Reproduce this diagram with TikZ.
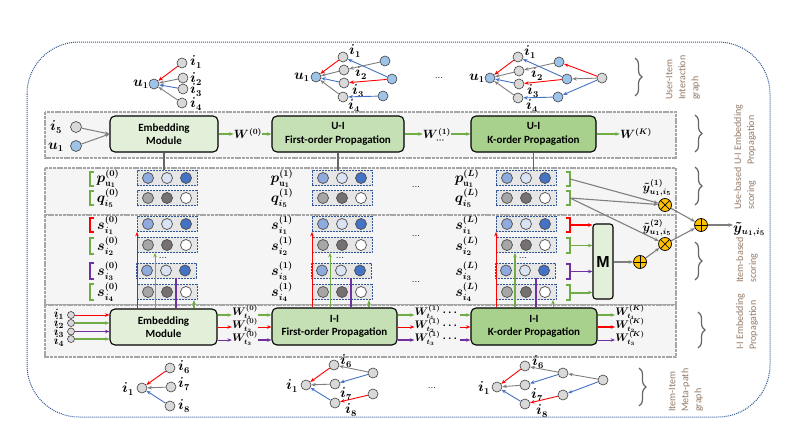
\documentclass[tikz,border=0pt]{standalone}
\usepackage{fontspec}
\usepackage{amsmath}
\usetikzlibrary{arrows.meta,calc,decorations.pathreplacing}
\newfontfamily\carl{Carlito}
\newfontfamily\arl{Liberation Sans}
\definecolor{cRed}{HTML}{FF0000}
\definecolor{cGreen}{HTML}{70AD47}
\definecolor{cPurple}{HTML}{7030A0}
\definecolor{cBlue}{HTML}{4472C4}
\definecolor{cGray}{HTML}{7F7F7F}
\definecolor{nGray}{HTML}{D9D9D9}
\definecolor{nBlue}{HTML}{9DC3E6}
\definecolor{panelF}{HTML}{F4F5F4}
\definecolor{panelB}{HTML}{A6A6A6}
\definecolor{lGreen}{HTML}{E2F0D9}
\definecolor{mGreen}{HTML}{C5E0B4}
\definecolor{dGreen}{HTML}{A9D18E}
\definecolor{vBa}{HTML}{8FAADC}
\definecolor{vBb}{HTML}{DAE3F3}
\definecolor{vBc}{HTML}{4472C4}
\definecolor{vGa}{HTML}{A6A6A6}
\definecolor{vGb}{HTML}{767171}
\definecolor{vBox}{HTML}{E7E6E6}
\definecolor{vBord}{HTML}{2F5597}
\definecolor{opF}{HTML}{FFC000}
\definecolor{sideT}{HTML}{957B68}
\definecolor{dotB}{HTML}{2F5597}
\tikzset{
  gn/.style={circle, draw=black!75, fill=nGray, line width=0.6pt, minimum size=10pt, inner sep=0pt},
  bn/.style={gn, fill=nBlue},
  sn/.style={gn, minimum size=7pt},
  lab/.style={inner sep=0pt, font=\boldmath\fontsize{13.5}{13.5}\selectfont},
  wlab/.style={inner sep=0pt, font=\boldmath\fontsize{12}{12}\selectfont},
  wslab/.style={inner sep=0pt, font=\boldmath\fontsize{10.5}{10.5}\selectfont},
  dotlab/.style={inner sep=0pt, font=\fontsize{10}{10}\selectfont},
  arr/.style={-{Stealth[length=4.5pt,width=3.5pt]}},
  eR/.style={arr, draw=cRed, line width=0.9pt},
  eK/.style={arr, draw=cGray, line width=0.9pt},
  eB/.style={arr, draw=cBlue, line width=0.9pt},
  aGr/.style={arr, draw=cGreen, line width=1.1pt},
  aRd/.style={arr, draw=cRed, line width=1pt},
  aPu/.style={arr, draw=cPurple, line width=1pt},
  aGy/.style={arr, draw=cGray, line width=1.1pt},
  panel/.style={draw=panelB, fill=panelF, line width=1.5pt, dash pattern=on 3pt off 0.8pt},
  modbox/.style={draw=black, line width=1.1pt, rounded corners=5pt, align=center, inner sep=0pt,
     font=\carl\bfseries\fontsize{11}{13.5}\selectfont},
  mbox/.style={draw=black, line width=1.1pt, rounded corners=3pt, fill=lGreen, minimum width=20pt,
     minimum height=75pt, inner sep=0pt, font=\arl\bfseries\fontsize{16}{16}\selectfont},
  vbox/.style={draw=vBord, fill=vBox, line width=0.8pt, dash pattern=on 2pt off 1pt,
     minimum width=60pt, minimum height=15pt, inner sep=0pt},
  vc/.style={circle, draw=black!70, line width=0.7pt, minimum size=11pt, inner sep=0pt},
  op/.style={circle, draw=black, line width=0.7pt, fill=opF, minimum size=13pt, inner sep=0pt},
  otim/.style={op, path picture={\draw[line width=0.7pt] (path picture bounding box.north west) -- (path picture bounding box.south east) (path picture bounding box.north east) -- (path picture bounding box.south west);}},
  oplu/.style={op, path picture={\draw[line width=0.7pt] (path picture bounding box.north) -- (path picture bounding box.south) (path picture bounding box.east) -- (path picture bounding box.west);}},
  brk/.style={line width=1.2pt},
  brc/.style={decorate, decoration={brace, amplitude=7pt}, draw=black!60, line width=1.2pt},
  sidet/.style={rotate=90, anchor=west, align=left, text=sideT, inner sep=0pt,
     font=\carl\fontsize{10}{13}\selectfont},
}
\newcommand{\vecB}[3]{%
  \node[vbox] (#1) at (#2,#3) {};
  \node[vc, fill=vBa] (#1a) at ($(#1)+(-19,0)$) {};
  \node[vc, fill=vBb] (#1b) at (#1) {};
  \node[vc, fill=vBc] (#1c) at ($(#1)+(19,0)$) {};}
\newcommand{\vecG}[3]{%
  \node[vbox] (#1) at (#2,#3) {};
  \node[vc, fill=vGa] (#1a) at ($(#1)+(-19,0)$) {};
  \node[vc, fill=vGb] (#1b) at (#1) {};
  \node[vc, fill=white] (#1c) at ($(#1)+(19,0)$) {};}
\begin{document}
\begin{tikzpicture}[x=1pt,y=-1pt]
\fill[white] (0,0) rectangle (798,439);
\useasboundingbox (0,0) rectangle (798,439);
% outer frame
\draw[dotB, densely dotted, line width=1pt, rounded corners=52pt] (27,42) rectangle (770,417);

% ===== top graphs =====
\node[bn] (g1u) at (154,84) {};
\node[gn] (g1i1) at (182,63) {};
\node[gn] (g1i2) at (183,78) {};
\node[gn] (g1i3) at (183,89) {};
\node[gn] (g1i4) at (182,103) {};
\node[lab] (l1u) at (141,84) {$u_1$};
\node[lab] (l1a) at (196,62) {$i_1$};
\node[lab] (l1b) at (196,79) {$i_2$};
\node[lab] (l1c) at (196,90) {$i_3$};
\node[lab] (l1d) at (196,104) {$i_4$};
\draw[eR] (g1i1) -- (g1u);
\draw[eK] (g1i2) -- (g1u);
\draw[eB] (g1i3) -- (g1u);
\draw[eK] (g1i4) -- (g1u);

\node[bn] (g2u) at (316,77) {};
\node[gn] (g2i1) at (343,57) {};
\node[gn] (g2i2) at (344,70) {};
\node[gn] (g2i3) at (344,83) {};
\node[gn] (g2i4) at (343,97) {};
\node[bn] (g2b1) at (385,61) {};
\node[bn] (g2b2) at (392,79) {};
\node[bn] (g2b3) at (383,96) {};
\node[lab] (l2u) at (302,77) {$u_1$};
\node[lab] (l2a) at (355,51) {$i_1$};
\node[lab] (l2b) at (361,73) {$i_2$};
\node[lab] (l2c) at (358,91) {$i_3$};
\node[lab] (l2d) at (354,106) {$i_4$};
\draw[eK] (g2b1) -- (g2i2);
\draw[eB] (g2b2) -- (g2i1);
\draw[eR] (g2b2) -- (g2i3);
\draw[eB] (g2b3) -- (g2i4);
\draw[eR] (g2i1) -- (g2u);
\draw[eK] (g2i2) -- (g2u);
\draw[eB] (g2i3) -- (g2u);
\draw[eK] (g2i4) -- (g2u);

\node[dotlab] (d1) at (439,78) {...};

\node[bn] (g3u) at (490,78) {};
\node[gn] (g3i1) at (518,57) {};
\node[gn] (g3i2) at (519,71) {};
\node[gn] (g3i3) at (519,84) {};
\node[gn] (g3i4) at (518,98) {};
\node[bn] (g3m1) at (559,62) {};
\node[bn] (g3m2) at (567,79) {};
\node[bn] (g3m3) at (558,97) {};
\node[gn] (g3f) at (602,78) {};
\node[lab] (l3u) at (477,78) {$u_1$};
\node[lab] (l3a) at (530,52) {$i_1$};
\node[lab] (l3b) at (537,74) {$i_2$};
\node[lab] (l3c) at (533,91) {$i_3$};
\node[lab] (l3d) at (532,106) {$i_4$};
\draw[eR] (g3f) -- (g3m1);
\draw[eK] (g3f) -- (g3m2);
\draw[eB] (g3f) -- (g3m3);
\draw[eK] (g3m1) -- (g3i2);
\draw[eB] (g3m2) -- (g3i1);
\draw[eR] (g3m2) -- (g3i3);
\draw[eB] (g3m3) -- (g3i4);
\draw[eR] (g3i1) -- (g3u);
\draw[eK] (g3i2) -- (g3u);
\draw[eB] (g3i3) -- (g3u);
\draw[eK] (g3i4) -- (g3u);

% ===== panels =====
\draw[panel] (45,112) rectangle (676,158);
\draw[panel] (45,168) rectangle (676,215);
\draw[panel] (45,215) rectangle (676,305);
\draw[panel] (45,305) rectangle (676,357);

% ===== U-I embedding row =====
\node[modbox, fill=lGreen, minimum width=108pt, minimum height=36pt] (uemb) at (164,134) {Embedding\\Module};
\node[modbox, fill=mGreen, minimum width=132pt, minimum height=36pt] (uf) at (338,134) {U-I\\First-order Propagation};
\node[modbox, fill=dGreen, minimum width=125pt, minimum height=36pt] (uk) at (533.5,134) {U-I\\K-order Propagation};
\node[gn, minimum size=11pt] (ui5) at (76,127) {};
\node[bn, minimum size=11pt] (uu1) at (76,146) {};
\node[lab] (lui5) at (56,127) {$i_5$};
\node[lab] (luu1) at (56,147) {$u_1$};
\draw[aGy, line width=1pt] (ui5) -- (uemb.west);
\draw[aGy, line width=1pt] (uu1) -- (uemb.west);
\node[wlab, anchor=base] (w0) at (248,138.5) {$W^{(0)}$};
\node[wlab, anchor=base] (w1) at (437,138.5) {$W^{(1)}_{\cdots}$};
\node[wlab, anchor=base] (wk) at (636,138.5) {$W^{(K)}$};
\draw[aGr] (uemb.east) -- (uemb.east -| w0.west);
\draw[aGr] (uf.west -| w0.east) -- (uf.west);
\draw[aGr] (uf.east) -- (uf.east -| w1.west);
\draw[aGr, line width=1.4pt] (uk.west -| w1.east) -- (uk.west);
\draw[aGr] (uk.east) -- (uk.east -| wk.west);

% ===== vectors =====
\vecB{pa}{167}{178} \vecG{qa}{167}{198}
\vecB{pb}{342}{178} \vecG{qb}{342}{198}
\vecB{pc}{526}{178} \vecG{qc}{526}{198}
\vecB{sa1}{167}{224} \vecG{sa2}{167}{245} \vecB{sa3}{166}{270.5} \vecG{sa4}{167}{292}
\vecB{sb1}{342}{224} \vecG{sb2}{342}{245} \vecB{sb3}{341}{270.5} \vecG{sb4}{342}{292}
\vecB{sc1}{526}{224} \vecG{sc2}{526}{245} \vecB{sc3}{525}{270.5} \vecG{sc4}{526}{292}

\draw[draw=cGray!80!black, line width=1.6pt] (uemb.south) -- (uemb.south |- pa.north);
\draw[draw=cGray!80!black, line width=1.6pt] (uf.south) -- (uf.south |- pb.north);
\draw[draw=cGray!80!black, line width=1.6pt] (uk.south) -- (uk.south |- pc.north);

% labels
\node[lab] (lpa) at (108,179) {$p^{(0)}_{\mathrm{u}_1}$};
\node[lab] (lqa) at (108,198) {$q^{(0)}_{i_5}$};
\node[lab] (lpb) at (282,179) {$p^{(1)}_{\mathrm{u}_1}$};
\node[lab] (lqb) at (282,198) {$q^{(1)}_{i_5}$};
\node[lab] (lpc) at (467,179) {$p^{(L)}_{\mathrm{u}_1}$};
\node[lab] (lqc) at (467,198) {$q^{(L)}_{i_5}$};
\foreach \n/\x/\s in {a/108/(0), b/282/(1), c/467/(L)}{
  \node[lab] (ls\n1) at (\x,225) {$s^{\s}_{i_1}$};
  \node[lab] (ls\n2) at (\x,246) {$s^{\s}_{i_2}$};
  \node[lab] (ls\n3) at (\x,271) {$s^{\s}_{i_3}$};
  \node[lab] (ls\n4) at (\x,292) {$s^{\s}_{i_4}$};
}
\node[dotlab] (d2) at (416,187) {...};
\node[dotlab] (d3) at (416,236) {...};
\node[dotlab] (d4) at (416,282) {...};
\node[dotlab] (d5) at (163,258) {...};
\node[dotlab] (d6) at (340,258) {...};
\node[dotlab] (d7) at (523,258) {...};

% left brackets col1
\draw[brk, cGreen] (94,172) -- (90,172) -- (90,186) -- (94,186);
\draw[brk, cGreen] (94,191) -- (90,191) -- (90,205) -- (94,205);
\draw[brk, cRed] (94,218) -- (90,218) -- (90,232) -- (94,232);
\draw[brk, cGreen] (94,238) -- (90,238) -- (90,254) -- (94,254);
\draw[brk, cPurple] (94,263) -- (90,263) -- (90,279) -- (94,279);
\draw[brk, cGreen] (94,284) -- (90,284) -- (90,300) -- (94,300);
% right brackets col3
\draw[brk, cGreen] (566,172) -- (570,172) -- (570,186) -- (566,186);
\draw[brk, cGreen] (566,191) -- (570,191) -- (570,205) -- (566,205);
\draw[brk, cRed] (566,218) -- (570,218) -- (570,232) -- (566,232);
\draw[brk, cGreen] (566,238) -- (570,238) -- (570,253) -- (566,253);
\draw[brk, cPurple] (566,264) -- (570,264) -- (570,279) -- (566,279);
\draw[brk, cGreen] (566,285) -- (570,285) -- (570,300) -- (566,300);
\coordinate (bp) at (570,179);
\coordinate (bq) at (570,198);
\coordinate (br1) at (570,225);
\coordinate (br2) at (570,245.5);
\coordinate (br3) at (570,271.5);
\coordinate (br4) at (570,292.5);

% M and operators
\node[mbox] (M) at (603,261.5) {M};
\draw[aRd, line width=1.3pt] (br1) -- (br1 -| M.west);
\draw[aGr] (br2) -- (br2 -| M.west);
\draw[aPu, line width=1.6pt] (br3) -- (br3 -| M.west);
\draw[aGr, line width=2pt] (br4) -- (br4 -| M.west);

\node[otim] (op1) at (665,205) {};
\node[otim] (op2) at (665,244) {};
\node[oplu] (opm) at (701,225) {};
\node[oplu] (ops) at (640,262) {};
\draw[aGy] (bp) -- (op1);
\draw[aGy] (bq) -- (op1);
\draw[aGy] (bq) -- (op2);
\draw[aGy] (op1) -- (opm);
\draw[aGy] (op2) -- (opm);
\draw[aGy] (M.east |- ops) -- (ops);
\draw[aGy] (ops) -- (op2);
\node[wlab] (y1) at (657,188) {$\tilde{y}^{(1)}_{u_1,i_5}$};
\node[wlab] (y2) at (657,228) {$\tilde{y}^{(2)}_{u_1,i_5}$};
\node[lab, anchor=west] (yf) at (733,229) {$\tilde{y}_{u_1,i_5}$};
\draw[aGy] (opm) -- (yf.west |- opm);

% ===== I-I embedding row =====
\node[modbox, fill=lGreen, minimum width=107pt, minimum height=36pt] (iemb) at (163.5,327) {Embedding\\Module};
\node[modbox, fill=mGreen, minimum width=125pt, minimum height=37pt] (iif) at (334.5,326.5) {I-I\\First-order Propagation};
\node[modbox, fill=dGreen, minimum width=126pt, minimum height=37pt] (iik) at (534,326.5) {I-I\\K-order Propagation};

\node[sn] (ii1) at (71,315) {};
\node[sn] (ii2) at (71,323) {};
\node[sn] (ii3) at (71,331.5) {};
\node[sn] (ii4) at (71,339) {};
\node[wlab] (lii1) at (59,314) {$i_1$};
\node[wlab] (lii2) at (59,323) {$i_2$};
\node[wlab] (lii3) at (59,332) {$i_3$};
\node[wlab] (lii4) at (59,341) {$i_4$};
\draw[aRd] (ii1) -- (ii1 -| iemb.west);
\draw[aGr] (ii2) -- (ii2 -| iemb.west);
\draw[aPu] (ii3) -- (ii3 -| iemb.west);
\draw[aGr] (ii4) -- (ii4 -| iemb.west);

\coordinate (ya) at (0,315);
\coordinate (yb) at (0,327);
\coordinate (yc) at (0,340);
\node[wslab] (wa1) at (245,312) {$W^{(0)}_{t_1}$};
\node[wslab] (wa2) at (245,325) {$W^{(0)}_{t_2}$};
\node[wslab] (wa3) at (245,338) {$W^{(0)}_{t_3}$};
\node[wslab] (wb1) at (437,312) {$W^{(1)}_{t_1}\cdots$};
\node[wslab] (wb2) at (437,325) {$W^{(1)}_{t_2}\cdots$};
\node[wslab] (wb3) at (437,338) {$W^{(1)}_{t_3}\cdots$};
\node[wslab] (wc1) at (630,312) {$W^{(K)}_{t_1}$};
\node[wslab] (wc2) at (630,325) {$W^{(K)}_{t_2}$};
\node[wslab] (wc3) at (630,338) {$W^{(K)}_{t_3}$};

\draw[aGr] (iemb.east |- ya) -- (wa1.west |- ya);
\draw[aRd] (iemb.east |- yb) -- (wa2.west |- yb);
\draw[aPu] (iemb.east |- yc) -- (wa3.west |- yc);
\draw[aGr, line width=2.2pt] (wa1.east |- ya) -- (iif.west |- ya);
\draw[aRd] (wa2.east |- yb) -- (iif.west |- yb);
\draw[aPu, line width=2.2pt] (wa3.east |- yc) -- (iif.west |- yc);
\draw[aGr] (iif.east |- ya) -- (wb1.west |- ya);
\draw[aRd] (iif.east |- yb) -- (wb2.west |- yb);
\draw[aPu, line width=2pt] (iif.east |- yc) -- (wb3.west |- yc);
\draw[aGr, line width=1.5pt] (wb1.east |- ya) -- (iik.west |- ya);
\draw[aRd] (wb2.east |- yb) -- (iik.west |- yb);
\draw[aPu, line width=2.5pt] (wb3.east |- yc) -- (iik.west |- yc);
\draw[aGr] (iik.east |- ya) -- (wc1.west |- ya);
\draw[aRd, line width=2.5pt] (iik.east |- yb) -- (wc2.west |- yb);
\draw[aPu] (iik.east |- yc) -- (wc3.west |- yc);

% vertical arrows to s vectors
\draw[aRd] ([xshift=-30pt]sa1.south |- iemb.north) -- ([xshift=-30pt]sa1.south);
\draw[aGr, line width=1pt] ([xshift=-12pt]sa2.south |- iemb.north) -- ([xshift=-12pt]sa2.south);
\draw[cPurple, line width=2pt] ([xshift=10pt]sa3.south |- iemb.north) -- ([xshift=10pt]sa3.south);
\draw[aGr, line width=1.3pt] ([xshift=27pt]sa4.south |- iemb.north) -- ([xshift=27pt]sa4.south);
\draw[aRd] ([xshift=-30pt]sb1.south |- iif.north) -- ([xshift=-30pt]sb1.south);
\draw[aGr, line width=1pt] ([xshift=-12pt]sb2.south |- iif.north) -- ([xshift=-12pt]sb2.south);
\draw[cPurple, line width=2pt] ([xshift=10pt]sb3.south |- iif.north) -- ([xshift=10pt]sb3.south);
\draw[aGr, line width=1.3pt] ([xshift=27pt]sb4.south |- iif.north) -- ([xshift=27pt]sb4.south);
\draw[aRd] ([xshift=-30pt]sc1.south |- iik.north) -- ([xshift=-30pt]sc1.south);
\draw[aGr, line width=2.4pt] ([xshift=-11pt]sc2.south |- iik.north) -- ([xshift=-11pt]sc2.south);
\draw[cPurple, line width=2pt] ([xshift=11pt]sc3.south |- iik.north) -- ([xshift=11pt]sc3.south);
\draw[aGr, line width=1pt] ([xshift=27pt]sc4.south |- iik.north) -- ([xshift=27pt]sc4.south);

% ===== bottom graphs =====
\node[gn] (h1i1) at (142,388) {};
\node[gn] (h1i6) at (170,368) {};
\node[gn] (h1i7) at (171,387) {};
\node[gn] (h1i8) at (170,406) {};
\node[lab] (m1a) at (128,389) {$i_1$};
\node[lab] (m1b) at (184,367) {$i_6$};
\node[lab] (m1c) at (184,384) {$i_7$};
\node[lab] (m1d) at (184,406) {$i_8$};
\draw[eR] (h1i6) -- (h1i1);
\draw[eK] (h1i7) -- (h1i1);
\draw[eB] (h1i8) -- (h1i1);

\node[gn] (h2i1) at (306,385) {};
\node[gn] (h2i6) at (334,365) {};
\node[gn] (h2i7) at (335,384) {};
\node[gn] (h2i8) at (335,403) {};
\node[gn] (h2r1) at (373,373) {};
\node[gn] (h2r2) at (373,394) {};
\node[lab] (m2a) at (292,386) {$i_1$};
\node[lab] (m2b) at (346,361) {$i_6$};
\node[lab] (m2c) at (346,394) {$i_7$};
\node[lab] (m2d) at (351,410) {$i_8$};
\draw[eK] (h2r1) -- (h2i6);
\draw[eB] (h2r1) -- (h2i7);
\draw[eR] (h2r2) -- (h2i8);
\draw[eR] (h2i6) -- (h2i1);
\draw[eK] (h2i7) -- (h2i1);
\draw[eB] (h2i8) -- (h2i1);

\node[dotlab] (d8) at (432,388) {...};

\node[gn] (h3i1) at (497,387) {};
\node[gn] (h3i6) at (525,366) {};
\node[gn] (h3i7) at (525,385) {};
\node[gn] (h3i8) at (525,404) {};
\node[gn] (h3m1) at (563,373) {};
\node[gn] (h3m2) at (563,395) {};
\node[gn] (h3f) at (603,380) {};
\node[lab] (m3a) at (484,388) {$i_1$};
\node[lab] (m3b) at (538,362) {$i_6$};
\node[lab] (m3c) at (537,395) {$i_7$};
\node[lab] (m3d) at (542,411) {$i_8$};
\draw[eK] (h3f) -- (h3m1);
\draw[eB] (h3f) -- (h3m2);
\draw[eK] (h3m1) -- (h3i6);
\draw[eB] (h3m1) -- (h3i7);
\draw[eR] (h3m2) -- (h3i8);
\draw[eR] (h3i6) -- (h3i1);
\draw[eK] (h3i7) -- (h3i1);
\draw[eB] (h3i8) -- (h3i1);

% ===== braces and side labels =====
\draw[brc] (635,58) -- (635,96);
\draw[brc] (695,115) -- (695,152);
\draw[brc] (695,167) -- (695,205);
\draw[brc] (695,242) -- (695,280);
\draw[brc] (698,312) -- (698,348);
\draw[brc] (639,368) -- (639,406);
\node[sidet] (t1) at (683,100) {User-Item\\Interaction\\graph};
\node[sidet] (t2) at (745,165) {U-I Embedding\\Propagation};
\node[sidet] (t3) at (745,210) {Use-based\\scoring};
\node[sidet] (t4) at (747,283) {Item-based\\scoring};
\node[sidet] (t5) at (747,350) {I-I Embedding\\Propagation};
\node[sidet] (t6) at (686,412) {Item-Item\\Meta-path\\graph};
\end{tikzpicture}
\end{document}
